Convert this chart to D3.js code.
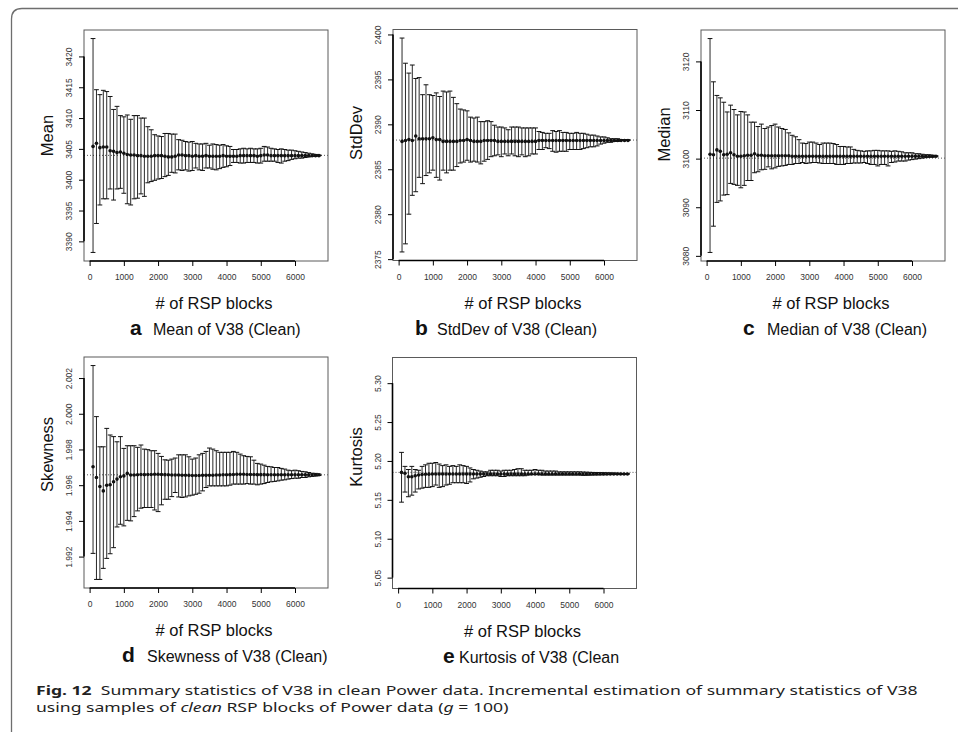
<!DOCTYPE html>
<html><head><meta charset="utf-8">
<script src="https://cdn.jsdelivr.net/npm/d3@7"></script>
<style>
html,body{margin:0;padding:0;background:#fff;}
svg{display:block;font-family:"Liberation Sans",Arial,Helvetica,sans-serif;}
</style></head>
<body><svg id="chart" width="958" height="732"></svg>
<script>
// ---------- data ----------
const blocks = [100,200,300,400,500,600,700,800,900,1000,
 1100,1200,1300,1400,1500,1600,1700,1800,1900,2000,
 2100,2200,2300,2400,2500,2600,2700,2800,2900,3000,
 3100,3200,3300,3400,3500,3600,3700,3800,3900,4000,
 4100,4200,4300,4400,4500,4600,4700,4800,4900,5000,
 5100,5200,5300,5400,5500,5600,5700,5800,5900,6000,
 6100,6200,6300,6400,6500,6600,6700];
const xTicks = [0,1000,2000,3000,4000,5000,6000];

const meanMid = [3405.4,3405.9,3405.2,3405.3,3405.3,3404.7,3404.6,3404.4,3404.5,3404.3,
 3404.1,3404.0,3404.0,3403.9,3403.9,3403.8,3403.8,3403.8,3403.9,3403.9,
 3403.9,3403.8,3403.7,3403.7,3403.8,3404.0,3404.0,3403.9,3403.9,3403.8,
 3403.9,3403.8,3403.8,3403.9,3403.8,3403.8,3403.8,3403.8,3403.9,3403.8,
 3403.8,3403.8,3403.8,3403.9,3403.9,3403.9,3403.9,3403.9,3403.8,3403.9,
 3404.0,3404.0,3403.9,3403.9,3403.9,3403.9,3403.9,3403.9,3403.9,3403.9,
 3403.9,3403.9,3403.9,3403.9,3403.9,3403.9,3403.9];
const meanHi = [3422.9,3414.6,3413.8,3414.5,3414.3,3413.5,3411.4,3411.9,3410.4,3410.2,
 3410.5,3409.8,3410.4,3410.4,3410.0,3410.0,3408.6,3408.1,3407.3,3407.1,
 3407.0,3407.5,3407.5,3407.4,3407.4,3406.5,3406.4,3406.2,3406.1,3406.2,
 3405.9,3405.8,3405.8,3405.9,3405.6,3405.8,3405.7,3405.6,3405.7,3405.5,
 3405.4,3404.9,3404.9,3405.0,3405.1,3405.0,3405.1,3405.0,3405.0,3405.1,
 3405.4,3405.3,3405.1,3405.0,3404.9,3405.0,3404.9,3404.8,3404.8,3404.7,
 3404.6,3404.5,3404.4,3404.3,3404.2,3404.1,3404.0];
const meanLo = [3388.2,3392.9,3395.9,3396.9,3396.9,3398.5,3396.7,3398.5,3398.6,3397.8,
 3396.1,3395.9,3396.9,3397.0,3397.7,3397.3,3399.5,3399.7,3399.9,3400.1,
 3400.2,3400.5,3400.7,3401.2,3401.1,3401.6,3401.5,3401.6,3401.4,3401.5,
 3401.9,3401.6,3401.5,3401.9,3401.9,3401.7,3401.6,3401.8,3402.0,3402.1,
 3402.3,3402.8,3402.8,3402.7,3402.7,3402.8,3402.8,3402.8,3402.7,3402.7,
 3403.0,3403.0,3403.0,3403.0,3402.8,3402.7,3403.0,3403.1,3403.3,3403.4,
 3403.5,3403.5,3403.6,3403.7,3403.8,3403.8,3403.9];

const sdMid = [2388.1,2388.2,2388.3,2388.2,2388.7,2388.4,2388.4,2388.4,2388.4,2388.5,
 2388.3,2388.3,2388.1,2388.1,2388.1,2388.1,2388.1,2388.2,2388.2,2388.3,
 2388.2,2388.1,2388.1,2388.1,2388.2,2388.2,2388.2,2388.2,2388.1,2388.1,
 2388.1,2388.1,2388.1,2388.1,2388.1,2388.1,2388.1,2388.1,2388.1,2388.1,
 2388.2,2388.2,2388.2,2388.2,2388.2,2388.2,2388.2,2388.2,2388.2,2388.2,
 2388.2,2388.2,2388.2,2388.2,2388.2,2388.2,2388.2,2388.2,2388.2,2388.2,
 2388.2,2388.2,2388.2,2388.2,2388.2,2388.2,2388.2];
const sdHi = [2399.6,2396.8,2395.7,2396.6,2395.1,2395.2,2393.3,2394.4,2393.3,2393.2,
 2393.5,2393.1,2393.7,2393.6,2393.7,2393.0,2392.3,2391.7,2391.6,2391.5,
 2390.8,2390.7,2390.8,2390.3,2390.3,2390.4,2390.3,2389.9,2389.7,2389.7,
 2389.6,2389.4,2389.7,2389.7,2389.7,2389.6,2389.6,2389.6,2389.6,2389.6,
 2389.2,2389.1,2389.0,2389.0,2389.3,2389.2,2389.3,2389.1,2389.1,2389.0,
 2389.0,2389.1,2389.0,2389.0,2388.9,2388.8,2388.8,2388.7,2388.6,2388.6,
 2388.5,2388.4,2388.4,2388.4,2388.3,2388.3,2388.3];
const sdLo = [2375.8,2376.7,2380.0,2382.1,2382.5,2384.1,2383.4,2384.3,2384.6,2384.9,
 2384.1,2383.8,2384.9,2384.6,2384.9,2384.9,2385.3,2385.7,2385.8,2386.0,
 2385.8,2385.9,2385.8,2385.6,2385.9,2386.1,2386.4,2386.5,2386.6,2386.4,
 2386.7,2386.5,2386.7,2386.5,2386.4,2386.6,2386.4,2386.5,2386.7,2386.7,
 2387.2,2387.2,2387.4,2387.3,2387.0,2386.9,2387.0,2387.0,2387.0,2387.2,
 2387.2,2387.2,2387.2,2387.3,2387.4,2387.5,2387.5,2387.6,2387.8,2387.9,
 2388.0,2388.0,2388.1,2388.1,2388.2,2388.2,2388.2];

const medMid = [3100.9,3100.8,3101.8,3101.5,3100.8,3100.9,3101.2,3100.8,3100.5,3100.5,
 3100.6,3100.7,3100.7,3101.0,3100.7,3100.7,3100.6,3100.6,3100.6,3100.6,
 3100.6,3100.6,3100.6,3100.6,3100.5,3100.5,3100.5,3100.5,3100.5,3100.5,
 3100.5,3100.5,3100.5,3100.5,3100.5,3100.5,3100.5,3100.5,3100.5,3100.5,
 3100.5,3100.5,3100.5,3100.5,3100.5,3100.5,3100.5,3100.5,3100.5,3100.5,
 3100.5,3100.5,3100.5,3100.5,3100.5,3100.5,3100.5,3100.5,3100.5,3100.5,
 3100.5,3100.5,3100.5,3100.5,3100.5,3100.5,3100.5];
const medHi = [3124.7,3115.8,3113.0,3112.5,3111.6,3109.6,3111.0,3110.1,3109.0,3109.7,
 3109.6,3109.0,3107.5,3107.5,3106.6,3107.1,3106.2,3106.5,3106.8,3107.1,
 3106.5,3106.2,3106.0,3105.3,3104.8,3104.5,3103.9,3103.2,3103.1,3103.4,
 3103.4,3103.2,3102.9,3103.2,3103.2,3103.2,3103.1,3102.9,3102.5,3102.5,
 3102.4,3102.4,3101.9,3101.7,3101.6,3101.5,3101.6,3101.6,3101.7,3101.7,
 3101.6,3101.6,3101.6,3101.5,3101.6,3101.5,3101.4,3101.2,3101.2,3101.2,
 3101.0,3101.0,3100.9,3100.8,3100.8,3100.7,3100.6];
const medLo = [3080.7,3086.1,3091.0,3091.3,3092.5,3092.6,3094.9,3094.7,3094.5,3094.0,
 3094.5,3095.5,3095.5,3097.1,3097.3,3097.7,3097.8,3098.3,3097.9,3098.1,
 3098.4,3098.5,3098.6,3098.8,3098.8,3099.0,3099.0,3099.2,3099.0,3099.1,
 3099.2,3099.2,3099.1,3099.0,3099.0,3099.0,3099.0,3098.8,3098.8,3098.8,
 3099.0,3099.0,3099.1,3099.1,3099.1,3099.2,3099.0,3098.8,3098.8,3098.5,
 3098.8,3098.8,3098.5,3099.2,3099.3,3099.5,3099.5,3099.5,3099.7,3099.8,
 3099.9,3100.0,3100.1,3100.2,3100.3,3100.3,3100.4];

const skewMid = [1.99703,1.99643,1.99593,1.99568,1.99600,1.99602,1.99619,1.99634,1.99647,1.99652,
 1.99666,1.99657,1.99657,1.99658,1.99660,1.99659,1.99660,1.99660,1.99661,1.99661,
 1.99660,1.99659,1.99658,1.99657,1.99657,1.99657,1.99656,1.99656,1.99655,1.99654,
 1.99654,1.99654,1.99655,1.99655,1.99656,1.99656,1.99657,1.99657,1.99658,1.99658,
 1.99659,1.99660,1.99661,1.99661,1.99661,1.99660,1.99660,1.99660,1.99659,1.99659,
 1.99659,1.99658,1.99658,1.99658,1.99658,1.99658,1.99658,1.99658,1.99658,1.99658,
 1.99658,1.99658,1.99658,1.99658,1.99658,1.99658,1.99658];
const skewHi = [2.00270,1.99984,1.99815,1.99815,1.99918,1.99881,1.99872,1.99843,1.99872,1.99806,
 1.99821,1.99821,1.99821,1.99812,1.99825,1.99802,1.99799,1.99793,1.99793,1.99778,
 1.99761,1.99742,1.99740,1.99746,1.99752,1.99770,1.99770,1.99770,1.99759,1.99746,
 1.99752,1.99770,1.99778,1.99789,1.99808,1.99802,1.99793,1.99784,1.99784,1.99784,
 1.99784,1.99789,1.99784,1.99774,1.99765,1.99761,1.99759,1.99740,1.99722,1.99718,
 1.99712,1.99705,1.99703,1.99699,1.99699,1.99694,1.99690,1.99684,1.99681,1.99684,
 1.99681,1.99677,1.99675,1.99671,1.99667,1.99666,1.99662];
const skewLo = [1.99218,1.99072,1.99072,1.99134,1.99190,1.99216,1.99250,1.99366,1.99381,1.99372,
 1.99403,1.99400,1.99424,1.99456,1.99471,1.99475,1.99475,1.99475,1.99461,1.99452,
 1.99490,1.99521,1.99521,1.99536,1.99559,1.99534,1.99531,1.99534,1.99540,1.99544,
 1.99549,1.99555,1.99568,1.99587,1.99596,1.99596,1.99596,1.99596,1.99596,1.99596,
 1.99600,1.99606,1.99606,1.99606,1.99606,1.99609,1.99606,1.99606,1.99602,1.99606,
 1.99609,1.99615,1.99619,1.99621,1.99624,1.99628,1.99630,1.99634,1.99637,1.99639,
 1.99639,1.99643,1.99643,1.99647,1.99649,1.99651,1.99654];

const kurtMid = [5.1853,5.1841,5.1797,5.1797,5.1810,5.1819,5.1825,5.1828,5.1830,5.1832,
 5.1832,5.1832,5.1832,5.1832,5.1832,5.1832,5.1832,5.1832,5.1832,5.1832,
 5.1832,5.1832,5.1832,5.1832,5.1832,5.1832,5.1833,5.1833,5.1833,5.1833,
 5.1833,5.1833,5.1833,5.1833,5.1833,5.1833,5.1833,5.1833,5.1833,5.1833,
 5.1833,5.1833,5.1833,5.1833,5.1833,5.1833,5.1833,5.1833,5.1833,5.1833,
 5.1833,5.1833,5.1833,5.1833,5.1833,5.1833,5.1833,5.1833,5.1833,5.1833,
 5.1833,5.1833,5.1833,5.1833,5.1833,5.1833,5.1833];
const kurtHi = [5.211,5.193,5.189,5.193,5.189,5.188,5.193,5.195,5.197,5.197,
 5.198,5.196,5.194,5.195,5.193,5.194,5.193,5.195,5.194,5.193,
 5.191,5.189,5.188,5.187,5.186,5.186,5.188,5.188,5.188,5.187,
 5.188,5.188,5.188,5.189,5.190,5.190,5.188,5.188,5.188,5.189,
 5.188,5.188,5.187,5.187,5.187,5.187,5.186,5.186,5.186,5.186,
 5.186,5.186,5.186,5.1858,5.1856,5.1854,5.1852,5.1851,5.1850,5.1849,
 5.1847,5.1846,5.1844,5.1842,5.1840,5.1838,5.1836];
const kurtLo = [5.147,5.160,5.154,5.156,5.160,5.164,5.165,5.166,5.166,5.167,
 5.169,5.166,5.167,5.169,5.170,5.172,5.172,5.172,5.172,5.171,
 5.173,5.177,5.178,5.179,5.180,5.181,5.181,5.181,5.181,5.180,
 5.180,5.181,5.181,5.181,5.181,5.181,5.181,5.182,5.1825,5.1825,
 5.1825,5.182,5.182,5.182,5.182,5.182,5.182,5.182,5.182,5.182,
 5.182,5.182,5.182,5.1815,5.1816,5.1818,5.1820,5.1821,5.1822,5.1823,
 5.1824,5.1825,5.1826,5.1827,5.1828,5.1829,5.1830];

const meanTicks = [3390,3395,3400,3405,3410,3415,3420];
const sdTicks = [2375,2380,2385,2390,2395,2400];
const medTicks = [3080,3090,3100,3110,3120];
const skewTicks = [1.992,1.994,1.996,1.998,2.000,2.002];
const kurtTicks = [5.05,5.10,5.15,5.20,5.25,5.30];

const refValues = [3403.95, 2388.25, 3100.1, 1.99658, 5.1853];
const yTitles = ["Mean","StdDev","Median","Skewness","Kurtosis"];
const panelLetters = ["a","b","c","d","e"];
const panelCaptions = ["Mean of V38 (Clean)","StdDev of V38 (Clean)","Median of V38 (Clean)","Skewness of V38 (Clean)","Kurtosis of V38 (Clean"];
const kurtYlim = [5.047, 5.322];

const figCaptionLine1 = [
  {t:"Fig. 12", bold:true, gap:0.6},
  {t:"Summary statistics of V38 in clean Power data. Incremental estimation of summary statistics of V38"}
];
const figCaptionLine2 = [
  {t:"using samples of", gap:0.3},
  {t:"clean", italic:true, gap:0.3},
  {t:"RSP blocks of Power data (", gap:0},
  {t:"g", italic:true, gap:0.3},
  {t:"= 100)"}
];

// ---------- layout ----------
const svg = d3.select("#chart");
const W = 244, H = 231;
const panels = [
 {mid:meanMid, hi:meanHi, lo:meanLo, ticks:meanTicks, fmt:d3.format("d"), left:84, top:30, lx:130, tx:153, ylabOff:-10},
 {mid:sdMid, hi:sdHi, lo:sdLo, ticks:sdTicks, fmt:d3.format("d"), left:393, top:29.5, lx:415, tx:437, ylabOff:-12},
 {mid:medMid, hi:medHi, lo:medLo, ticks:medTicks, fmt:d3.format("d"), left:701, top:30, lx:743, tx:767, ylabOff:-11},
 {mid:skewMid, hi:skewHi, lo:skewLo, ticks:skewTicks, fmt:d3.format(".3f"), left:84, top:357, lx:122, tx:147, ylabOff:-18},
 {mid:kurtMid, hi:kurtHi, lo:kurtLo, ticks:kurtTicks, fmt:d3.format(".2f"), left:392.5, top:357.5, lx:443, tx:459, ylabOff:-16, ylim:kurtYlim}
];

svg.append("path")
  .attr("d","M11.5,732 L11.5,19 Q11.5,8.5 22,8.5 L958,8.5")
  .attr("fill","none").attr("stroke","#6e6e6e").attr("stroke-width",1.3);

const xExt = d3.extent(blocks);
const xPad = (xExt[1]-xExt[0])*0.04;

panels.forEach((p,i) => {
  const g = svg.append("g").attr("transform",`translate(${p.left},${p.top})`);
  const x = d3.scaleLinear().domain([xExt[0]-xPad, xExt[1]+xPad]).range([0,W]);
  const yl = p.ylim || [d3.min(p.lo), d3.max(p.hi)];
  const yPad = (yl[1]-yl[0])*0.04;
  const y = d3.scaleLinear().domain([yl[0]-yPad, yl[1]+yPad]).range([H,0]);

  g.append("line").attr("x1",0).attr("x2",W)
    .attr("y1",y(refValues[i])).attr("y2",y(refValues[i]))
    .attr("stroke","#444").attr("stroke-width",0.9).attr("stroke-dasharray","1,2");

  const bars = g.append("g").selectAll("g").data(blocks).join("g");
  bars.append("line")
    .attr("x1",(d)=>x(d)).attr("x2",(d)=>x(d))
    .attr("y1",(d,j)=>y(p.lo[j])).attr("y2",(d,j)=>y(p.hi[j]))
    .attr("stroke","#111").attr("stroke-width",0.9);
  bars.append("line")
    .attr("x1",(d)=>x(d)-2.4).attr("x2",(d)=>x(d)+2.4)
    .attr("y1",(d,j)=>y(p.hi[j])).attr("y2",(d,j)=>y(p.hi[j]))
    .attr("stroke","#111").attr("stroke-width",1);
  bars.append("line")
    .attr("x1",(d)=>x(d)-2.4).attr("x2",(d)=>x(d)+2.4)
    .attr("y1",(d,j)=>y(p.lo[j])).attr("y2",(d,j)=>y(p.lo[j]))
    .attr("stroke","#111").attr("stroke-width",1);
  bars.append("circle")
    .attr("cx",(d)=>x(d)).attr("cy",(d,j)=>y(p.mid[j])).attr("r",1.8)
    .attr("fill","#111");

  g.append("rect").attr("x",0).attr("y",0).attr("width",W).attr("height",H)
    .attr("fill","none").attr("stroke","#5a5a5a").attr("stroke-width",1);

  const xa = g.append("g").attr("transform",`translate(0,${H})`)
    .call(d3.axisBottom(x).tickValues(xTicks).tickSize(5).tickSizeOuter(0).tickFormat(d3.format("d")));
  xa.select(".domain").remove();
  xa.append("line").attr("x1",x(xTicks[0])).attr("x2",x(xTicks[xTicks.length-1]))
    .attr("y1",0).attr("y2",0).attr("stroke","#000").attr("stroke-width",1.6);
  xa.selectAll(".tick line").attr("stroke","#000");
  xa.selectAll(".tick text").attr("y",19).attr("dy",0)
    .attr("font-size","8.5px").attr("fill","#333").attr("font-family","Liberation Sans, Arial, sans-serif");

  const ya = g.append("g")
    .call(d3.axisLeft(y).tickValues(p.ticks).tickSize(5).tickSizeOuter(0).tickFormat(p.fmt));
  ya.select(".domain").remove();
  ya.append("line").attr("x1",0).attr("x2",0)
    .attr("y1",y(p.ticks[0])).attr("y2",y(p.ticks[p.ticks.length-1]))
    .attr("stroke","#000").attr("stroke-width",1.6);
  ya.selectAll(".tick line").attr("stroke","#000");
  ya.selectAll(".tick text").attr("x",0).attr("dy",0)
    .attr("transform","translate(-12,0) rotate(-90)")
    .attr("text-anchor","middle")
    .attr("font-size","8.5px").attr("fill","#333").attr("font-family","Liberation Sans, Arial, sans-serif");

  g.append("text")
    .attr("transform",`translate(-31,${H/2 + p.ylabOff}) rotate(-90)`)
    .attr("text-anchor","middle").attr("font-size","16.5px").attr("fill","#111")
    .text(yTitles[i]);

  g.append("text").attr("x",W/2+8).attr("y",H+48)
    .attr("text-anchor","middle").attr("font-size","16.5px").attr("fill","#111")
    .text("# of RSP blocks");

  svg.append("text").attr("x",p.lx).attr("y",p.top+H+74)
    .attr("font-size","21px").attr("font-weight","bold").attr("fill","#111")
    .text(panelLetters[i]);
  svg.append("text").attr("x",p.tx).attr("y",p.top+H+74)
    .attr("font-size","16px").attr("fill","#111")
    .text(panelCaptions[i]);
});

// ---------- figure caption (horizontally stretched to the reference width) ----------
const capFont = "'Noto Sans', 'Open Sans', sans-serif";
const capFs = 12;
function segWidth(s){
  const t = svg.append("text").attr("font-family",capFont).attr("font-size",capFs+"px")
    .attr("font-weight", s.bold ? "bold" : "normal")
    .attr("font-style", s.italic ? "italic" : "normal").text(s.t);
  const w = t.node().getComputedTextLength();
  t.remove();
  return w + (s.gap||0)*capFs*0.87;
}
const natural1 = d3.sum(figCaptionLine1, segWidth);
const sx = 882 / natural1;
function drawLine(segs, y0){
  const lg = svg.append("g").attr("transform",`translate(36,${y0}) scale(${sx},1)`);
  let xPos = 0;
  segs.forEach(s => {
    lg.append("text").attr("x",xPos).attr("y",0)
      .attr("font-family",capFont).attr("font-size",capFs+"px").attr("fill","#222")
      .attr("font-weight", s.bold ? "bold" : "normal")
      .attr("font-style", s.italic ? "italic" : "normal").text(s.t);
    xPos += segWidth(s);
  });
}
drawLine(figCaptionLine1, 694.5);
drawLine(figCaptionLine2, 711.5);
</script>
</body></html>
